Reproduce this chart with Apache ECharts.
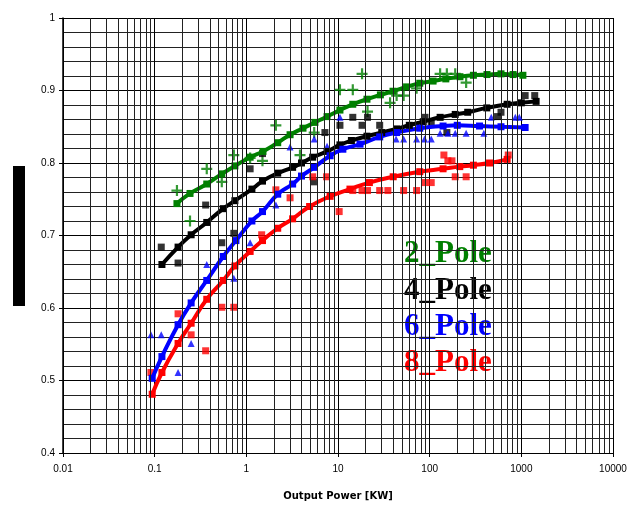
<!DOCTYPE html>
<html><head><meta charset="utf-8">
<script src="https://cdn.jsdelivr.net/npm/echarts@6/dist/echarts.min.js"></script>
<style>html,body{margin:0;padding:0;background:#fff}#c{width:635px;height:506px}</style>
</head><body><div id="c"></div><script>
// ---- data ----
const xTickLabels = ['0.01','0.1','1','10','100','1000','10000'];
const yTickLabels = ['0.4','0.5','0.6','0.7','0.8','0.9','1'];
const seriesNames = ['2_Pole','4_Pole','6_Pole','8_Pole'];

const pole2Fit = [[0.175,0.744],[0.243,0.758],[0.37,0.771],[0.54,0.785],[0.75,0.796],[1.1,0.808],[1.52,0.816],[2.2,0.828],[3.0,0.839],[4.15,0.848],[5.6,0.856],[7.6,0.864],[10.5,0.873],[14.5,0.881],[20.7,0.888],[29,0.894],[39.8,0.899],[56,0.905],[78,0.91],[109,0.913],[150,0.916],[214,0.919],[300,0.921],[422,0.922],[600,0.923],[813,0.922],[1040,0.921]];
const pole2Data = [[0.175,0.762],[0.243,0.72],[0.37,0.792],[0.54,0.774],[0.73,0.811],[1.1,0.807],[1.5,0.803],[2.1,0.852],[3.85,0.811],[5.5,0.842],[10.5,0.901],[14.5,0.901],[18.3,0.923],[21,0.871],[37,0.883],[43.6,0.893],[52,0.893],[72,0.903],[130,0.923],[154,0.923],[190,0.923],[250,0.911]];

const pole4Fit = [[0.12,0.66],[0.18,0.684],[0.25,0.701],[0.37,0.718],[0.56,0.737],[0.75,0.748],[1.15,0.764],[1.5,0.775],[2.2,0.786],[3.2,0.794],[4.0,0.8],[5.3,0.808],[7.6,0.816],[10.5,0.825],[14,0.831],[20.7,0.837],[30,0.842],[43.6,0.847],[60,0.852],[85,0.857],[130,0.863],[190,0.867],[260,0.87],[420,0.876],[700,0.881],[1000,0.883],[1450,0.885]];
const pole4Data = [[0.118,0.684],[0.18,0.662],[0.36,0.742],[0.54,0.69],[0.73,0.703],[1.1,0.792],[1.5,0.813],[5.4,0.774],[7.2,0.842],[10.5,0.852],[14.5,0.863],[18.3,0.852],[21,0.863],[28.5,0.852],[89,0.863],[104,0.856],[154,0.842],[550,0.864],[600,0.87],[1100,0.893],[1400,0.893]];

const pole6Fit = [[0.094,0.503],[0.12,0.533],[0.18,0.577],[0.25,0.607],[0.37,0.638],[0.56,0.671],[0.77,0.693],[1.15,0.72],[1.5,0.733],[2.2,0.757],[3.2,0.771],[4.0,0.782],[5.5,0.794],[8.2,0.81],[11.3,0.819],[17.4,0.826],[28.5,0.836],[43.6,0.842],[78,0.848],[140,0.851],[200,0.852],[350,0.851],[600,0.85],[1100,0.849]];
const pole6Data = [[0.091,0.563],[0.118,0.563],[0.18,0.511],[0.25,0.551],[0.37,0.66],[0.73,0.641],[1.1,0.69],[2.1,0.742],[3.0,0.822],[5.5,0.833],[7.6,0.823],[10.5,0.863],[43,0.833],[52,0.833],[72,0.833],[88,0.833],[104,0.833],[130,0.841],[158,0.841],[190,0.841],[250,0.841],[390,0.841],[470,0.863],[860,0.863],[950,0.863]];

const pole8Fit = [[0.094,0.481],[0.12,0.511],[0.18,0.551],[0.25,0.579],[0.37,0.612],[0.56,0.638],[0.75,0.658],[1.1,0.678],[1.5,0.693],[2.2,0.71],[3.2,0.723],[4.9,0.74],[8.2,0.754],[13.5,0.764],[22,0.773],[40,0.781],[78,0.788],[140,0.792],[213,0.795],[300,0.797],[450,0.8],[700,0.805]];
const pole8Data = [[0.091,0.511],[0.18,0.592],[0.25,0.563],[0.36,0.541],[0.54,0.601],[0.73,0.601],[1.47,0.701],[2.1,0.763],[3.0,0.752],[5.3,0.781],[7.5,0.781],[10.3,0.733],[14.5,0.762],[18.3,0.762],[21,0.762],[28.5,0.762],[35,0.762],[52,0.762],[72,0.762],[88,0.773],[104,0.773],[143,0.811],[158,0.803],[175,0.803],[190,0.781],[250,0.781],[720,0.811]];

const minorMultipliers = [2,3,4,5,6,7,8,9];
// ---- styles ----
const colors = ['#008000','#000000','#0000ff','#ff0000'];
const minorGrid = [];
xTickLabels.slice(0,-1).forEach(d => minorMultipliers.forEach(m => minorGrid.push({xAxis: parseFloat(d)*m})));

const crossPath = 'path://M4,0H6V4H10V6H6V10H4V6H0V4H4Z';
function fit(name, data, color){
  return {name, type:'line', data, smooth:true, symbol:'rect', symbolSize:7, showSymbol:true,
    lineStyle:{color, width:4}, itemStyle:{color}, z:4, silent:true};
}
function pts(name, data, color, symbol, size){
  return {name, type:'scatter', data, symbol, symbolSize:size, itemStyle:{color}, z:3, silent:true};
}
const chart = echarts.init(document.getElementById('c'), null, {renderer:'canvas'});
const labelFont = {fontFamily:'Liberation Sans, Arial', fontSize:10, color:'#000'};
const legendFont = 'bold 31px "Liberation Serif"';
chart.setOption({
  animation:false,
  backgroundColor:'#fff',
  grid:{left:63, right:22, top:18, bottom:50, containLabel:false},
  xAxis:{type:'log', logBase:10, min:0.01, max:10000,
    name:'Output Power [KW]', nameLocation:'middle', nameGap:38,
    nameTextStyle:{fontFamily:'DejaVu Sans', fontWeight:'bold', fontSize:10, color:'#000'},
    axisLine:{show:true, lineStyle:{color:'#000', width:1}},
    axisTick:{show:true, length:4, lineStyle:{color:'#000'}},
    axisLabel:Object.assign({margin:11, formatter:v => xTickLabels[Math.round(Math.log10(v))+2]}, labelFont),
    splitLine:{show:true, lineStyle:{color:'#000', width:1}}},
  yAxis:{type:'value', min:0.4, max:1, interval:0.1,
    axisLine:{show:true, onZero:false, lineStyle:{color:'#000', width:1.5}},
    axisTick:{show:true, length:4, lineStyle:{color:'#000'}},
    axisLabel:Object.assign({margin:8, formatter:v => yTickLabels[Math.round((v-0.4)*10)]}, labelFont),
    splitLine:{show:true, lineStyle:{color:'#000', width:1}},
    minorTick:{show:false, splitNumber:5},
    minorSplitLine:{show:true, lineStyle:{color:'#222', width:1}}},
  graphic:[
    {type:'rect', left:13, top:166, shape:{width:12, height:140}, style:{fill:'#000'}},
    {type:'text', left:404, top:238, style:{text:seriesNames[0], fill:colors[0], font:legendFont}},
    {type:'text', left:404, top:275, style:{text:seriesNames[1], fill:colors[1], font:legendFont}},
    {type:'text', left:404, top:311, style:{text:seriesNames[2], fill:colors[2], font:legendFont}},
    {type:'text', left:404, top:347, style:{text:seriesNames[3], fill:colors[3], font:legendFont}}
  ],
  series:[
    {type:'line', data:[], z:1, silent:true,
      markLine:{silent:true, symbol:['none','none'], label:{show:false}, animation:false,
        lineStyle:{color:'#222', width:1, type:'solid'}, data:minorGrid}},
    pts(seriesNames[0]+' data', pole2Data, colors[0], crossPath, 11),
    pts(seriesNames[1]+' data', pole4Data, colors[1], 'rect', 7),
    pts(seriesNames[2]+' data', pole6Data, colors[2], 'triangle', 7),
    pts(seriesNames[3]+' data', pole8Data, colors[3], 'rect', 7),
    fit(seriesNames[0], pole2Fit, colors[0]),
    fit(seriesNames[1], pole4Fit, colors[1]),
    fit(seriesNames[2], pole6Fit, colors[2]),
    fit(seriesNames[3], pole8Fit, colors[3])
  ]
});
</script></body></html>
